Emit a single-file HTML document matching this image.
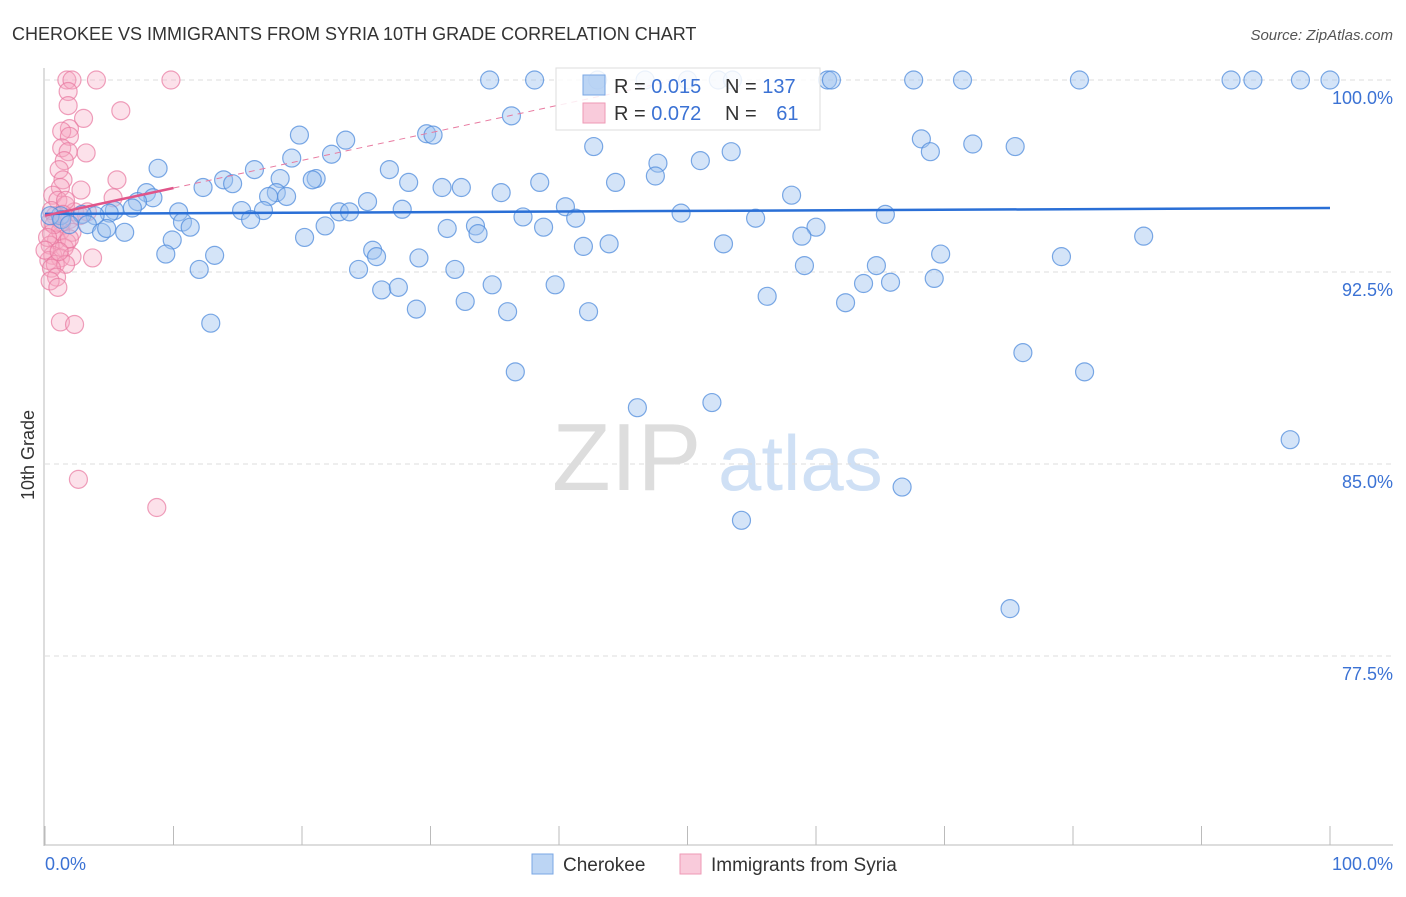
<!DOCTYPE html>
<html><head><meta charset="utf-8">
<style>
body{margin:0;background:#fff;font-family:"Liberation Sans",sans-serif;}
svg text{font-family:"Liberation Sans",sans-serif;}
</style></head>
<body>
<svg id="chart" width="1406" height="892" viewBox="0 0 1406 892" xmlns="http://www.w3.org/2000/svg">
<text x="12" y="40" font-size="18" fill="#333">CHEROKEE VS IMMIGRANTS FROM SYRIA 10TH GRADE CORRELATION CHART</text>
<text x="1393" y="40" font-size="15" fill="#555" text-anchor="end" font-style="italic">Source: ZipAtlas.com</text>
<g>
<text x="552" y="490" font-size="96" fill="#ddd" font-family="Liberation Serif,serif">ZIP</text>
<text x="718" y="490" font-size="78" fill="#cfe0f5">atlas</text>
</g>
<g id="grid"></g>
<g id="axes"></g>
<g id="pinkPts"></g>
<g id="bluePts"></g>
<g id="lines"></g>
<text transform="translate(34,455) rotate(-90)" font-size="18" fill="#333" text-anchor="middle">10th Grade</text>
<g>
<rect x="556" y="68" width="264" height="62" fill="rgba(255,255,255,0.85)" stroke="#ddd"/>
<rect x="583" y="75" width="22" height="20" fill="rgba(160,195,240,0.7)" stroke="#7aa7e4"/>
<rect x="583" y="103" width="22" height="20" fill="rgba(248,190,210,0.8)" stroke="#ee9ab6"/>
<text x="614" y="93" font-size="20" fill="#333">R = <tspan fill="#3b72d4">0.015</tspan></text>
<text x="725" y="93" font-size="20" fill="#333">N = <tspan fill="#3b72d4">137</tspan></text>
<text x="614" y="120" font-size="20" fill="#333">R = <tspan fill="#3b72d4">0.072</tspan></text>
<text x="725" y="120" font-size="20" fill="#333">N = <tspan fill="#3b72d4" dx="14">61</tspan></text>
</g>
<g>
<rect x="532" y="854" width="21" height="20" fill="rgba(160,195,240,0.7)" stroke="#7aa7e4"/>
<text x="563" y="871" font-size="19" fill="#333">Cherokee</text>
<rect x="680" y="854" width="21" height="20" fill="rgba(248,190,210,0.8)" stroke="#ee9ab6"/>
<text x="711" y="871" font-size="19" fill="#333">Immigrants from Syria</text>
</g>
</svg>
<script>
const yTicks=[100,92.5,85,77.5];
const yTickLabels=["100.0%","92.5%","85.0%","77.5%"];
const xTickLabels=["0.0%","100.0%"];
const blueX=[34.6,38.1,43.0,46.7,50.0,52.4,53.5,60.9,61.2,67.6,71.4,80.5,92.3,94.0,97.7,100,
36.3,19.8,29.7,30.2,23.4,42.7,68.2,68.9,72.2,75.5,53.4,19.2,22.3,47.7,51.0,8.8,16.3,26.8,47.5,13.9,18.3,21.1,20.8,14.6,12.3,28.3,30.9,32.4,38.5,44.4,
7.9,8.4,7.2,18.0,18.8,17.4,58.1,35.5,40.5,5.4,6.8,10.4,15.3,17.0,27.8,22.9,23.7,25.1,41.3,37.2,49.5,65.4,5.0,3.9,2.9,1.2,0.4,1.3,1.9,3.3,4.4,4.8,6.2,
10.7,11.3,16.0,21.8,33.5,31.3,33.7,38.8,55.3,60.0,58.9,85.5,9.9,20.2,25.5,25.8,29.1,41.9,43.9,52.8,69.7,79.1,9.4,13.2,12.0,24.4,31.9,59.1,64.7,
39.7,34.8,26.2,27.5,69.2,63.7,65.8,56.2,32.7,62.3,28.9,36.0,42.3,12.9,76.1,36.6,80.9,51.9,46.1,96.9,66.7,54.2,75.1];
const blueY=[100,100,100,100,100,100,100,100,100,100,100,100,100,100,100,100,
98.6,97.85,97.9,97.85,97.65,97.4,97.7,97.2,97.5,97.4,97.2,96.95,97.1,96.75,96.85,96.55,96.5,96.5,96.25,96.1,96.15,96.15,96.1,95.95,95.8,96.0,95.8,95.8,96.0,96.0,
95.6,95.4,95.25,95.6,95.45,95.45,95.5,95.6,95.05,94.9,95.0,94.85,94.9,94.9,94.95,94.85,94.85,95.25,94.6,94.65,94.8,94.75,94.8,94.7,94.75,94.7,94.7,94.55,94.35,94.35,94.05,94.2,94.05,
94.45,94.25,94.55,94.3,94.3,94.2,94.0,94.25,94.6,94.25,93.9,93.9,93.75,93.85,93.35,93.1,93.05,93.5,93.6,93.6,93.2,93.1,93.2,93.15,92.6,92.6,92.6,92.75,92.75,
92.0,92.0,91.8,91.9,92.25,92.05,92.1,91.55,91.35,91.3,91.05,90.95,90.95,90.5,89.35,88.6,88.6,87.4,87.2,85.95,84.1,82.8,79.35];
const pinkX=[1.7,2.1,4.0,9.8,1.8,1.8,5.9,3.0,1.9,1.3,1.9,3.2,1.3,1.8,1.5,1.1,1.4,5.6,1.2,2.8,0.6,5.3,1.0,1.6,2.3,3.3,0.8,2.7,0.4,1.3,1.9,0.5,1.2,2.1,0.9,1.7,0.4,1.5,0.6,1.2,0.3,2.1,3.7,0.8,1.6,0.5,0.9,0.4,1.0,1.2,2.3,2.6,8.7,0.5,1.6,0.7,1.4,0.2,1.9,0,1.1];
const pinkY=[100,100,100,100,99.55,99.0,98.8,98.5,98.1,98.0,97.8,97.15,97.35,97.2,96.85,96.5,96.1,96.1,95.8,95.7,95.5,95.4,95.3,95.1,94.85,94.85,94.7,94.7,94.45,94.45,94.55,94.0,94.1,94.05,93.75,93.65,93.55,93.45,93.15,93.05,92.95,93.1,93.05,92.8,92.8,92.65,92.3,92.15,91.9,90.55,90.45,84.4,83.3,94.9,95.3,94.35,94.75,93.85,93.8,93.35,93.3];
const blueTrend=[94.77,95.0];
const pinkTrend=[94.7,0.108];
const X=v=>45+v*12.85;
const Y=v=>80+(100-v)*25.6;
const NS="http://www.w3.org/2000/svg";
function mk(tag,attrs,parent){const e=document.createElementNS(NS,tag);for(const k in attrs)e.setAttribute(k,attrs[k]);parent.appendChild(e);return e;}
const grid=document.getElementById('grid'),axes=document.getElementById('axes');
yTicks.forEach((t,i)=>{
 const l=mk('line',{x1:45,x2:1393,y1:Y(t),y2:Y(t),stroke:'#ddd','stroke-dasharray':'5,4'},grid);
 
 
 const tx=mk('text',{x:1393,y:Y(t)+24,'font-size':18,fill:'#3b72d4','text-anchor':'end'},axes);
 tx.textContent=yTickLabels[i];
 
 
});
mk('line',{x1:44,x2:44,y1:68,y2:846,stroke:'#bbb'},axes);
mk('line',{x1:44,x2:1393,y1:845,y2:845,stroke:'#bbb'},axes);
for(let i=0;i<=10;i++){const t=mk('line',{x1:X(i*10),x2:X(i*10),y1:826,y2:845,stroke:'#bbb'},axes);
 
 }
const xl0=mk('text',{x:45,y:870,'font-size':18,fill:'#3b72d4'},axes);xl0.textContent=xTickLabels[0];


const xl1=mk('text',{x:1393,y:870,'font-size':18,fill:'#3b72d4','text-anchor':'end'},axes);xl1.textContent=xTickLabels[1];


const pg=document.getElementById('pinkPts');
pinkX.forEach((x,i)=>{const c=mk('circle',{cx:X(x),cy:Y(pinkY[i]),r:9,fill:'rgba(246,170,196,0.35)',stroke:'rgba(232,120,160,0.7)','stroke-width':1.2},pg);
 
 });
const bg=document.getElementById('bluePts');
blueX.forEach((x,i)=>{const c=mk('circle',{cx:X(x),cy:Y(blueY[i]),r:9,fill:'rgba(160,195,240,0.45)',stroke:'rgba(80,140,220,0.75)','stroke-width':1.2},bg);
 
 });
const lg=document.getElementById('lines');
const bl=mk('line',{x1:X(0),x2:X(100),y1:Y(blueTrend[0]),y2:Y(blueTrend[1]),stroke:'#2a6fd6','stroke-width':2.5},lg);


const pf=x=>pinkTrend[0]+pinkTrend[1]*x;
const pl=mk('line',{x1:X(0),x2:X(10),y1:Y(pf(0)),y2:Y(pf(10)),stroke:'#e0558a','stroke-width':2.5},lg);


const xe=(100-pinkTrend[0])/pinkTrend[1];
const pd=mk('line',{x1:X(10),x2:X(xe),y1:Y(pf(10)),y2:Y(100),stroke:'#e87aa0','stroke-width':1,'stroke-dasharray':'6,5'},lg);


</script>
</body></html>
